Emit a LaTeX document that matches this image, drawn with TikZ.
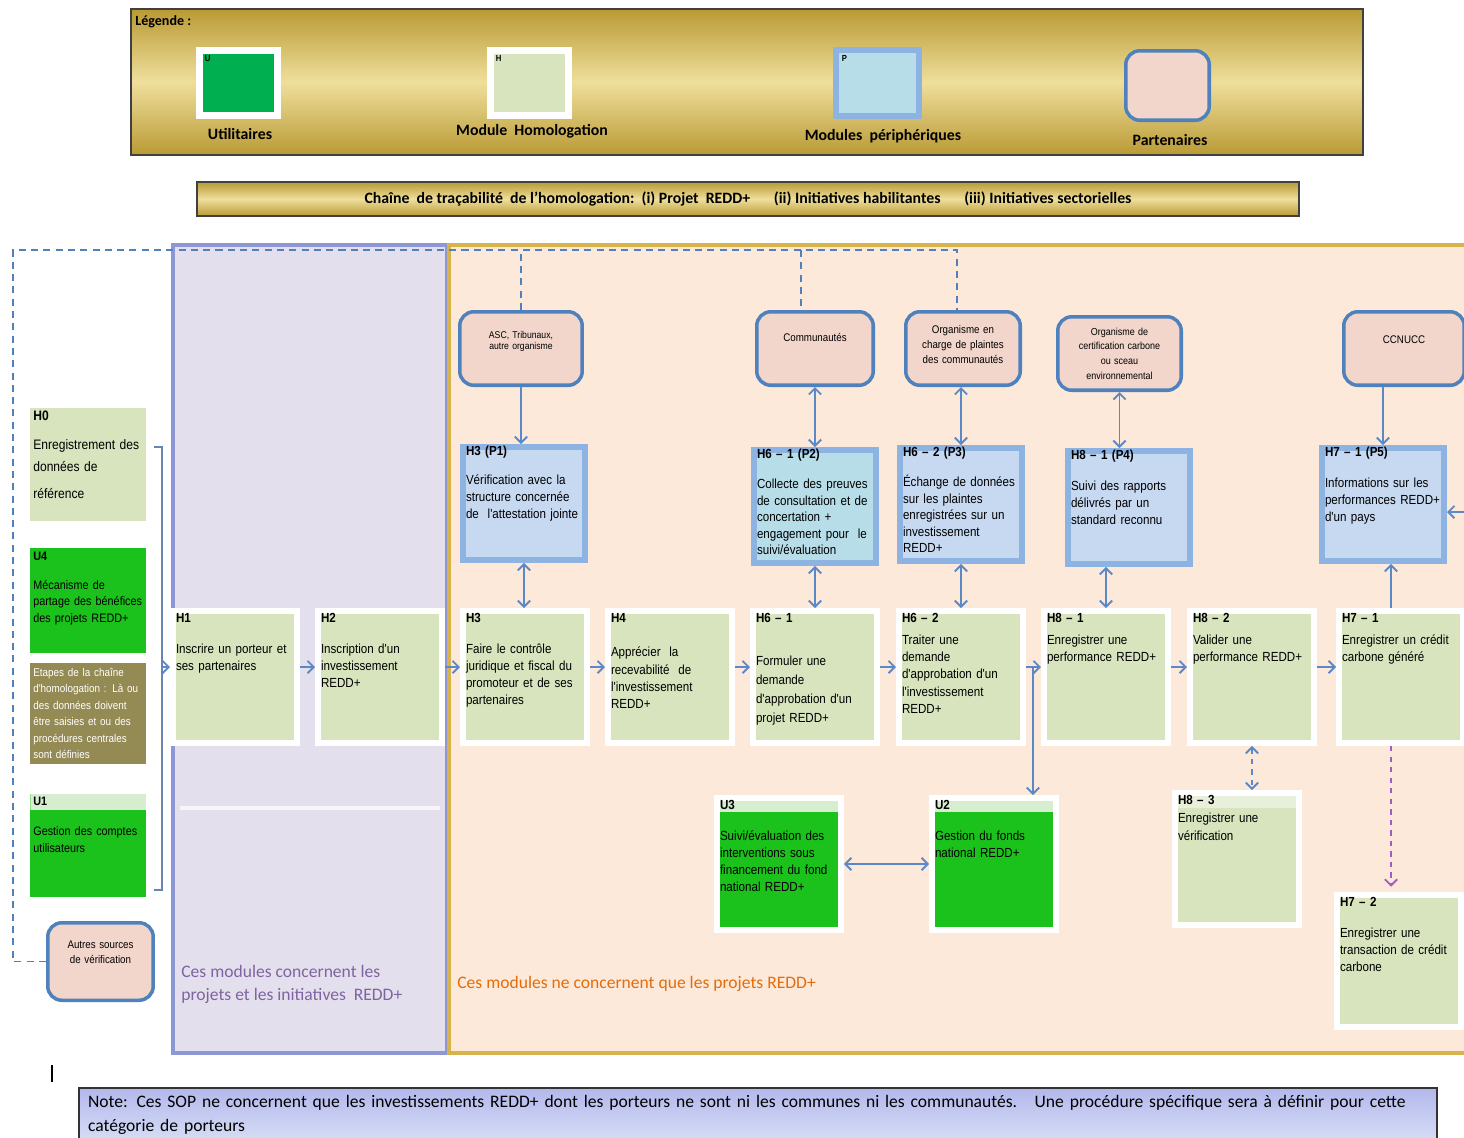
\documentclass[tikz,border=0pt]{standalone}
\usepackage{fontspec}
\usepackage{tikz}
\usepackage{xcolor}
\usetikzlibrary{arrows.meta}
\setmainfont{Carlito}
\newfontfamily\boxfont[FakeStretch=0.88]{Liberation Sans}

\definecolor{hgreen}{HTML}{D7E4BD}
\definecolor{hband}{HTML}{E8F0DC}
\definecolor{ugreen}{HTML}{1CC21C}
\definecolor{uband}{HTML}{D6EDD0}
\definecolor{legU}{HTML}{00B050}
\definecolor{pfill}{HTML}{C6D9F1}
\definecolor{pcyan}{HTML}{B7DEE8}
\definecolor{pborder}{HTML}{8DB3E2}
\definecolor{partfill}{HTML}{F2D6CB}
\definecolor{partline}{HTML}{4F81BD}
\definecolor{lavender}{HTML}{E4DFEC}
\definecolor{lavline}{HTML}{8E97D5}
\definecolor{peach}{HTML}{FDE9DA}
\definecolor{peachline}{HTML}{D8B34C}
\definecolor{olive}{HTML}{948A54}
\definecolor{arrblue}{HTML}{5B88C6}
\definecolor{golddark}{HTML}{B99A34}
\definecolor{goldlight}{HTML}{EFDF9C}
\definecolor{notetop}{HTML}{B3B8EC}
\definecolor{notebot}{HTML}{D7DEF5}
\definecolor{capviolet}{HTML}{7F64A2}
\definecolor{caporange}{HTML}{E46C0A}
\definecolor{dashviolet}{HTML}{9B5FC0}

\begin{document}
\begin{tikzpicture}[x=0.02cm, y=-0.02cm, >={Straight Barb[length=3.5pt,width=7pt]},
  goldbar/.style={rectangle, draw=black!75, line width=1.2pt, top color=golddark, bottom color=golddark, middle color=goldlight, anchor=north west, inner sep=0pt},
  lbl/.style={font=\bfseries\fontsize{9}{10}\selectfont, inner sep=0pt},
  lgbox/.style={rectangle, draw=white, line width=0.14cm, minimum width=1.56cm, minimum height=1.3cm, anchor=north west, inner sep=0pt},
  tag/.style={anchor=north west, inner sep=0pt, xshift=0.17cm, yshift=-0.17cm, font=\boxfont\bfseries\fontsize{5}{5}\selectfont},
  band/.style 2 args={path picture={\fill[#1] (path picture bounding box.north west) rectangle ([yshift=-#2]path picture bounding box.north east);}},
  hmod/.style={rectangle, fill=hgreen, draw=white, line width=0.12cm, inner sep=0.06cm, text width=2.36cm, text height=0.16cm, text depth=2.36cm, align=left, anchor=north west, font=\boxfont\fontsize{7.5}{9.8}\selectfont},
  umod/.style={hmod, fill=ugreen, band={uband}{0.28cm}},
  pmod/.style={hmod, fill=pfill, draw=pborder, text width=2.32cm, text height=0.1cm, text depth=2.04cm},
  lmod/.style={rectangle, fill=hgreen, inner sep=0.06cm, text width=2.2cm, align=left, anchor=north west, font=\boxfont\fontsize{7}{9.4}\selectfont},
  partner/.style={rectangle, rounded corners=8pt, draw=partline, line width=2pt, fill=partfill, inner sep=0.05cm, align=center, anchor=north west, font=\boxfont\fontsize{6.3}{8.6}\selectfont, text height=#1, text depth={\dimexpr1.37cm-#1\relax}},
  arr/.style={arrblue, line width=1.1pt},
  dline/.style={partline, line width=0.8pt, dash pattern=on 4pt off 3pt},
  brk/.style={arrblue!70!gray, line width=1pt}]
\useasboundingbox (0,0) rectangle (1464,1137);

\node[goldbar, minimum width=24.64cm, minimum height=2.92cm] (legend) at (130,8) {};
\node[lbl, anchor=west, font=\bfseries\fontsize{8}{9}\selectfont] (tleg) at (135,22) {Légende :};
\node[lgbox, fill=legU, label={[tag]north west:U}] (lu) at (196,47) {};
\node[lgbox, fill=hgreen, label={[tag]north west:H}] (lh) at (487,47) {};
\node[lgbox, fill=pcyan, draw=pborder, line width=0.12cm, minimum width=1.66cm, minimum height=1.32cm, label={[tag]north west:P}] (lp) at (833,47) {};
\node[rectangle, rounded corners=8pt, draw=partline, line width=2pt, fill=partfill, minimum width=1.67cm, minimum height=1.39cm, anchor=north west] (lpa) at (1124,49) {};
\node[lbl] (tu) at (240,134) {Utilitaires};
\node[lbl] (th) at (532,131) {Module\ \ Homologation};
\node[lbl] (tp) at (883,136) {Modules\ \ périphériques};
\node[lbl] (tpa) at (1170,140) {Partenaires};

\node[goldbar, minimum width=22.04cm, minimum height=0.68cm, font=\bfseries\fontsize{9}{10}\selectfont] (chain) at (196,181) {Chaîne\ \ de traçabilité\ \ de l'homologation:\ \ (i) Projet\ \ REDD+\hspace{1.5em}(ii) Initiatives habilitantes\hspace{1.5em}(iii) Initiatives sectorielles};

\draw[lavline, fill=lavender, line width=2.3pt] (173,245) rectangle (447,1053);
\draw[white!70!lavender, line width=2pt] (180,808) -- (440,808);
\draw[peachline, fill=peach, line width=2.5pt] (449,245) rectangle (1475,1053);

\node[anchor=north west, align=left, text=capviolet, font=\fontsize{10}{13}\selectfont, inner sep=0pt] (cap1) at (181,965) {Ces modules concernent les\\projets et les initiatives\ \ REDD+};
\node[anchor=west, text=caporange, font=\fontsize{10}{12}\selectfont, inner sep=0pt] (cap2) at (457,984) {Ces modules ne concernent que les projets REDD+};

\node[partner=0.475cm, text width=2.35cm, font=\boxfont\fontsize{5.6}{6.6}\selectfont] (asc) at (458,310) {ASC, Tribunaux,\\autre organisme};
\node[partner=0.535cm, text width=2.23cm] (comm) at (755,310) {Communautés};
\node[partner=0.375cm, text width=2.19cm] (ocharge) at (904,310) {Organisme en\\charge de plaintes\\des communautés};
\node[partner=0.315cm, text width=2.37cm, font=\boxfont\fontsize{5.8}{8.4}\selectfont] (cert) at (1056,315) {Organisme de\\certification carbone\\ou sceau\\environnemental};
\node[partner=0.575cm, text width=2.31cm] (ccnucc) at (1342,310) {CCNUCC};
\node[partner=0.455cm, text depth=0.995cm, text width=2.01cm] (autres) at (46,921) {Autres sources\\de vérification};

\coordinate (dl) at (13,250);
\coordinate (dc) at (801,250);
\draw[dline] (autres.west) -| (dl) -| ([xshift=-0.12cm]ocharge.north);
\draw[dline] (asc.north) -- (asc.north |- dl);
\draw[dline] (dc) -- (dc |- comm.north);

\node[lmod, text height=0.18cm, text depth=1.96cm, font=\boxfont\fontsize{7.8}{12.5}\selectfont] (h0) at (30,408) {\textbf{H0}\\[4pt]Enregistrement des\\données de\\[3pt]référence};
\node[lmod, fill=ugreen, text height=0.18cm, text depth=1.8cm] (u4) at (30,548) {\textbf{U4}\\[7pt]Mécanisme de\\partage des bénéfices\\des projets REDD+};
\node[lmod, fill=olive, text=white, text height=0.2cm, text depth=1.7cm, font=\boxfont\fontsize{6.4}{9.4}\selectfont] (etapes) at (30,663) {Etapes de la chaîne\\d'homologation : Là ou\\des données doivent\\être saisies et ou des\\procédures centrales\\sont définies};
\node[lmod, fill=ugreen, band={uband}{0.32cm}, text height=0.16cm, text depth=1.78cm] (u1) at (30,794) {\textbf{U1}\\[8pt]Gestion des comptes\\utilisateurs};

\node[hmod] (h1) at (170,608) {\textbf{H1}\\[8pt]Inscrire un porteur et\\ses partenaires};
\node[hmod] (h2) at (315,608) {\textbf{H2}\\[8pt]Inscription d'un\\investissement\\REDD+};
\node[hmod] (h3) at (460,608) {\textbf{H3}\\[8pt]Faire le contrôle\\juridique et fiscal du\\promoteur et de ses\\partenaires};
\node[hmod] (h4) at (605,608) {\textbf{H4}\\[10pt]Apprécier\ \ la\\recevabilité\ \ de\\l'investissement\\REDD+};
\node[hmod, font=\boxfont\fontsize{7.5}{10.8}\selectfont] (h61) at (750,608) {\textbf{H6 – 1}\\[14pt]Formuler une\\demande\\d'approbation d'un\\projet REDD+};
\node[hmod] (h62) at (896,608) {\textbf{H6 – 2}\\[3pt]Traiter une\\demande\\d'approbation d'un\\l'investissement\\REDD+};
\node[hmod] (h81) at (1041,608) {\textbf{H8 – 1}\\[3pt]Enregistrer une\\performance REDD+};
\node[hmod] (h82) at (1187,608) {\textbf{H8 – 2}\\[3pt]Valider une\\performance REDD+};
\node[hmod] (h71) at (1336,608) {\textbf{H7 – 1}\\[3pt]Enregistrer un crédit\\carbone généré};
\node[hmod, band={hband}{0.3cm}] (h83) at (1172,790) {\textbf{H8 – 3}\\[1pt]Enregistrer une\\vérification};
\node[hmod] (h72) at (1334,892) {\textbf{H7 – 2}\\[8pt]Enregistrer une\\transaction de crédit\\carbone};
\node[umod] (u3) at (714,795) {\textbf{U3}\\[8pt]Suivi/évaluation des\\interventions sous\\financement du fond\\national REDD+};
\node[umod] (u2) at (929,795) {\textbf{U2}\\[8pt]Gestion du fonds\\national REDD+};

\node[pmod] (p1) at (460,444) {\textbf{H3 (P1)}\\[7pt]Vérification avec la\\structure concernée\\de\ \ l'attestation jointe};
\node[pmod, fill=pcyan, font=\boxfont\fontsize{7.5}{9.4}\selectfont] (p2) at (751,447) {\textbf{H6 – 1 (P2)}\\[8pt]Collecte des preuves\\de consultation et de\\concertation +\\engagement pour\ \ le\\suivi/évaluation};
\node[pmod, font=\boxfont\fontsize{7.5}{9.4}\selectfont] (p3) at (897,445) {\textbf{H6 – 2 (P3)}\\[8pt]Échange de données\\sur les plaintes\\enregistrées sur un\\investissement\\REDD+};
\node[pmod] (p4) at (1065,448) {\textbf{H8 – 1 (P4)}\\[8pt]Suivi des rapports\\délivrés par un\\standard reconnu};
\node[pmod] (p5) at (1319,445) {\textbf{H7 – 1 (P5)}\\[8pt]Informations sur les\\performances REDD+\\d'un pays};

\coordinate (row) at (0,667);
\coordinate (b1) at (162,447);
\coordinate (b2) at (162,890);
\coordinate (j1) at (1033,667);
\coordinate (pin) at (1472,512);
\coordinate (c71) at ([xshift=-0.2cm]h71.north);
\coordinate (c72) at ([xshift=-0.2cm]h71.south);

\draw[brk, shorten <=4pt, shorten >=4pt] (h0.east |- b1) -- (b1) -- (b2) -- (u1.east |- b2);
\draw[arr, ->] (b1 |- row) -- (h1.west |- row);
\draw[arr, ->] (h1.east |- row) -- (h2.west |- row);
\draw[arr, ->] (h2.east |- row) -- (h3.west |- row);
\draw[arr, ->] (h3.east |- row) -- (h4.west |- row);
\draw[arr, ->] (h4.east |- row) -- (h61.west |- row);
\draw[arr, ->] (h61.east |- row) -- (h62.west |- row);
\draw[arr, ->] (h62.east |- row) -- (h81.west |- row);
\draw[arr, ->] (j1) -- (j1 |- u2.north);
\draw[arr, ->] (h81.east |- row) -- (h82.west |- row);
\draw[arr, ->] (h82.east |- row) -- (h71.west |- row);

\draw[arr, ->] (asc.south) -- (asc.south |- p1.north);
\draw[arr, <->] (p1.south) -- (p1.south |- h3.north);
\draw[arr, <->] (comm.south) -- (comm.south |- p2.north);
\draw[arr, <->] (p2.south) -- (p2.south |- h61.north);
\draw[arr, <->] (p3.north |- ocharge.south) -- (p3.north);
\draw[arr, <->] (p3.south) -- (p3.south |- h62.north);
\draw[arr, <->] (cert.south) -- (cert.south |- p4.north);
\draw[arr, <->] (h81.north) -- (h81.north |- p4.south);
\draw[arr, ->] (p5.north |- ccnucc.south) -- (p5.north);
\draw[arr, ->] (c71) -- (c71 |- p5.south);
\draw[arr, ->] (pin) -- (pin -| p5.east);
\draw[arr, <->, dashed] (h82.south) -- (h82.south |- h83.north);
\draw[dashviolet, line width=1.1pt, dashed, ->, shorten >=3pt] (c72) -- (c72 |- h72.north);
\draw[arr, <->] (u3.east) -- (u2.west);

\draw[line width=1.3pt] (52,1065) -- (52,1082);
\node[rectangle, draw=black!80, line width=1.2pt, top color=notetop, bottom color=notebot, anchor=north west, inner xsep=0.18cm, inner ysep=0.14cm, text width=26.8cm, align=left, font=\fontsize{10}{14}\selectfont] (note) at (78,1087) {Note: Ces SOP ne concernent que les investissements REDD+ dont les porteurs ne sont ni les communes ni les communautés.\ \ \ Une procédure spécifique sera à définir pour cette\\catégorie de porteurs\\[6pt]};
\end{tikzpicture}
\end{document}
